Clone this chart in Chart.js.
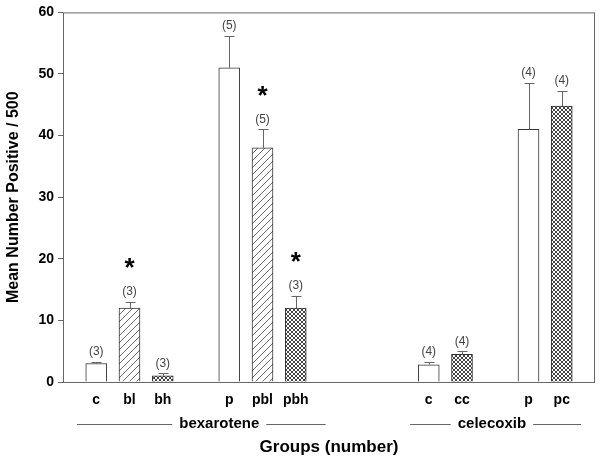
<!DOCTYPE html>
<html>
<head>
<meta charset="utf-8">
<script src="https://cdn.jsdelivr.net/npm/chart.js@4"></script>
<style>
  html, body { margin: 0; padding: 0; background: #fff; }
  #wrap { width: 601px; height: 463px; }
</style>
</head>
<body>
<div id="wrap"><canvas id="chart" width="601" height="463"></canvas></div>
<script>
// one slot per bar, empty slots keep the gaps between groups
const GROUP_LABELS = ['', 'c', 'bl', 'bh', '', 'p', 'pbl', 'pbh', '', '', '', 'c', 'cc', '', 'p', 'pc', '']
const MEANS = [null, 3.0, 12, 1.0, null, 51, 38, 12, null, null, null, 2.8, 4.5, null, 41, 44.8, null]
const ERRORS = [null, 0.3, 1.0, 0.4, null, 5.2, 3.0, 2.0, null, null, null, 0.5, 0.5, null, 7.6, 2.5, null]
const N_LABELS = ['', '(3)', '(3)', '(3)', '', '(5)', '(5)', '(3)', '', '', '', '(4)', '(4)', '', '(4)', '(4)', '']
const STARS = [false, false, true, false, false, false, true, true, false, false, false, false, false, false, false, false, false]
const FILLS = ['', 'open', 'hatch', 'cross', '', 'open', 'hatch', 'cross', '', '', '', 'open', 'cross', '', 'open', 'cross', '']
const TREATMENTS = ['bexarotene', 'celecoxib']

const FONT = '"Liberation Sans", Arial, sans-serif'
const GREY = '#666'

function hatchPattern() {
  const c = document.createElement('canvas')
  c.width = 7; c.height = 7
  const g = c.getContext('2d')
  g.fillStyle = '#fff'
  g.fillRect(0, 0, 7, 7)
  g.strokeStyle = '#444'
  g.lineWidth = 0.8
  g.beginPath()
  g.moveTo(-1, 8); g.lineTo(8, -1)
  g.moveTo(-1, 1); g.lineTo(1, -1)
  g.moveTo(6, 8); g.lineTo(8, 6)
  g.stroke()
  return g.createPattern(c, 'repeat')
}

function crossPattern() {
  const c = document.createElement('canvas')
  c.width = 4; c.height = 4
  const g = c.getContext('2d')
  g.fillStyle = '#fff'
  g.fillRect(0, 0, 4, 4)
  g.strokeStyle = '#444'
  g.lineWidth = 1
  g.beginPath()
  g.moveTo(0, 4); g.lineTo(4, 0)
  g.moveTo(0, 0); g.lineTo(4, 4)
  g.stroke()
  return g.createPattern(c, 'repeat')
}

const patterns = { open: '#fff', hatch: hatchPattern(), cross: crossPattern(), '': '#fff' }

// layout of the treatment captions under the group labels (in category units)
const treatmentLayout = [
  { from: 0.42, to: 7.9, center: 4.7 },
  { from: 10.44, to: 15.58, center: 12.9 },
]

const extras = {
  id: 'extras',
  afterDatasetsDraw(chart) {
    const { ctx, chartArea: a, scales: { x, y } } = chart
    const meta = chart.getDatasetMeta(0)
    ctx.save()
    // frame
    ctx.strokeStyle = GREY
    ctx.lineWidth = 1
    ctx.strokeRect(a.left + 0.5, a.top + 0.5, a.right - a.left - 1, a.bottom - a.top)

    meta.data.forEach((bar, i) => {
      if (MEANS[i] == null) return
      const top = y.getPixelForValue(MEANS[i] + ERRORS[i])
      const cx = Math.round(bar.x) + 0.5
      ctx.strokeStyle = GREY
      ctx.lineWidth = 1
      ctx.beginPath()
      ctx.moveTo(cx, bar.y)
      ctx.lineTo(cx, Math.round(top) + 0.5)
      ctx.moveTo(cx - 5, Math.round(top) + 0.5)
      ctx.lineTo(cx + 5, Math.round(top) + 0.5)
      ctx.stroke()

      ctx.fillStyle = '#444'
      ctx.font = '12px ' + FONT
      ctx.textAlign = 'center'
      ctx.textBaseline = 'middle'
      ctx.fillText(N_LABELS[i], bar.x, top - 10)
      if (STARS[i]) {
        ctx.fillStyle = '#000'
        ctx.font = 'bold 26px ' + FONT
        ctx.fillText('*', bar.x, top - 33)
      }
    })

    // treatment captions
    const ly = 424
    ctx.font = 'bold 15px ' + FONT
    ctx.textAlign = 'center'
    ctx.textBaseline = 'middle'
    TREATMENTS.forEach((t, k) => {
      const L = treatmentLayout[k]
      const x0 = x.left + (x.right - x.left) * L.from / (GROUP_LABELS.length - 1)
      const x1 = x.left + (x.right - x.left) * L.to / (GROUP_LABELS.length - 1)
      const xc = x.left + (x.right - x.left) * L.center / (GROUP_LABELS.length - 1)
      const w = ctx.measureText(t).width
      ctx.strokeStyle = GREY
      ctx.beginPath()
      ctx.moveTo(x0, ly + 0.5); ctx.lineTo(xc - w / 2 - 7, ly + 0.5)
      ctx.moveTo(xc + w / 2 + 7, ly + 0.5); ctx.lineTo(x1, ly + 0.5)
      ctx.stroke()
      ctx.fillStyle = '#000'
      ctx.fillText(t, xc, ly)
    })
    ctx.restore()
  }
}

new Chart(document.getElementById('chart'), {
  type: 'bar',
  data: {
    labels: GROUP_LABELS,
    datasets: [{
      data: MEANS,
      backgroundColor: FILLS.map(f => patterns[f]),
      borderColor: '#333',
      borderWidth: 1,
      barThickness: 21,
    }]
  },
  options: {
    responsive: false,
    animation: false,
    layout: { padding: { top: 10, right: 6, left: 0, bottom: 0 } },
    plugins: { legend: { display: false }, tooltip: { enabled: false } },
    scales: {
      x: {
        offset: false,
        grid: { display: false },
        border: { display: false },
        ticks: {
          autoSkip: false,
          maxRotation: 0,
          padding: 2,
          color: '#000',
          font: { family: FONT, size: 14, weight: 'bold' },
        },
        title: {
          display: true,
          text: 'Groups (number)',
          color: '#000',
          font: { family: FONT, size: 17, weight: 'bold' },
          padding: { top: 0, bottom: 5 },
        },
        afterFit(s) { s.height = 81 },
      },
      y: {
        min: 0,
        max: 60,
        grid: { drawOnChartArea: false, drawTicks: true, tickLength: 5, color: GREY },
        border: { display: false },
        ticks: {
          stepSize: 10,
          padding: 4,
          color: '#000',
          font: { family: FONT, size: 14, weight: 'bold' },
        },
        title: {
          display: true,
          text: 'Mean Number Positive / 500',
          color: '#000',
          font: { family: FONT, size: 16, weight: 'bold' },
          padding: { top: 4, bottom: 0 },
        },
        afterFit(s) { s.width = 63 },
      }
    }
  },
  plugins: [extras]
})
</script>
</body>
</html>
